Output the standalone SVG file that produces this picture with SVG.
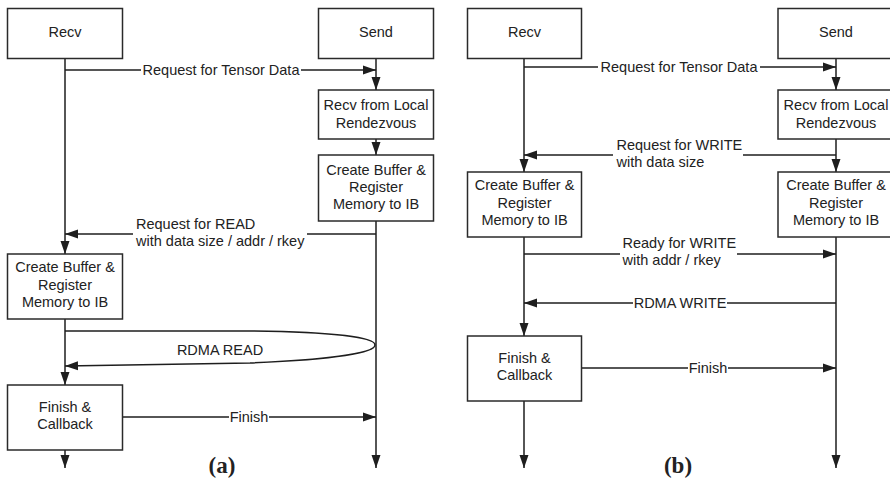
<svg xmlns="http://www.w3.org/2000/svg" width="890" height="479" viewBox="0 0 890 479">
<style>
.box{fill:#fff;stroke:#2a2a2a;stroke-width:1.5}
.ln{fill:none;stroke:#1e1e1e;stroke-width:1.5}
.t{font-family:"Liberation Sans",Arial,sans-serif;font-size:14.5px;fill:#222}
.c{text-anchor:middle}
.bg{fill:#fff}
.cap{font-family:"Liberation Serif","Times New Roman",serif;font-size:23px;font-weight:bold;fill:#222;text-anchor:middle}
</style>
<defs>
<marker id="ar" markerUnits="userSpaceOnUse" markerWidth="14" markerHeight="10" viewBox="0 0 14 10" refX="13" refY="5" orient="auto">
<path d="M0,0.5 L13,5 L0,9.5 Z" fill="#1e1e1e"/>
</marker>
</defs>

<g id="connectors">
<!-- panel a -->
<path class="ln" d="M65,58 V254" marker-end="url(#ar)"/>
<path class="ln" d="M65,319 V385" marker-end="url(#ar)"/>
<path class="ln" d="M65,450 V468" marker-end="url(#ar)"/>
<path class="ln" d="M376,58 V90" marker-end="url(#ar)"/>
<path class="ln" d="M376,139 V155" marker-end="url(#ar)"/>
<path class="ln" d="M376,221 V468" marker-end="url(#ar)"/>
<path class="ln" d="M65,70 H376" marker-end="url(#ar)"/>
<path class="ln" d="M376,234 H65" marker-end="url(#ar)"/>
<path class="ln" d="M65,331 L250,331 C330,332 375,337 375,345 C375,354 320,360 250,363 L65,366" marker-end="url(#ar)"/>
<path class="ln" d="M122,417 H376" marker-end="url(#ar)"/>
<!-- panel b -->
<path class="ln" d="M524,58 V172" marker-end="url(#ar)"/>
<path class="ln" d="M524,237 V336" marker-end="url(#ar)"/>
<path class="ln" d="M524,401 V468" marker-end="url(#ar)"/>
<path class="ln" d="M836,58 V90" marker-end="url(#ar)"/>
<path class="ln" d="M836,139 V172" marker-end="url(#ar)"/>
<path class="ln" d="M836,237 V468" marker-end="url(#ar)"/>
<path class="ln" d="M524,67 H836" marker-end="url(#ar)"/>
<path class="ln" d="M836,155 H524" marker-end="url(#ar)"/>
<path class="ln" d="M524,254 H836" marker-end="url(#ar)"/>
<path class="ln" d="M836,303 H524" marker-end="url(#ar)"/>
<path class="ln" d="M581,368 H836" marker-end="url(#ar)"/>

<!-- labels -->
<rect class="bg" x="141" y="63" width="160" height="14"/>
<text class="t c" x="221" y="75">Request for Tensor Data</text>
<rect class="bg" x="133" y="218" width="174" height="32"/>
<text class="t" x="136" y="229">Request for READ</text>
<text class="t" x="136" y="246">with data size / addr / rkey</text>
<text class="t c" x="220" y="355">RDMA READ</text>
<rect class="bg" x="229" y="410" width="40" height="14"/>
<text class="t c" x="249" y="422">Finish</text>

<rect class="bg" x="598" y="60" width="162" height="14"/>
<text class="t c" x="679" y="72">Request for Tensor Data</text>
<rect class="bg" x="613" y="139" width="130" height="31"/>
<text class="t" x="616.5" y="150">Request for WRITE</text>
<text class="t" x="616.5" y="166.5">with data size</text>
<rect class="bg" x="620" y="237" width="117" height="31"/>
<text class="t" x="622.5" y="248">Ready for WRITE</text>
<text class="t" x="622.5" y="265">with addr / rkey</text>
<rect class="bg" x="633" y="296" width="94" height="14"/>
<text class="t c" x="680" y="308">RDMA WRITE</text>
<rect class="bg" x="688" y="361" width="40" height="14"/>
<text class="t c" x="708" y="373">Finish</text>
</g>

<g id="a-recv">
<rect class="box" x="7.5" y="8.5" width="115" height="50"/>
<text class="t c" x="65" y="37">Recv</text>
</g>
<g id="a-send">
<rect class="box" x="318.5" y="8.5" width="115" height="50"/>
<text class="t c" x="376" y="37">Send</text>
</g>
<g id="a-recv-local">
<rect class="box" x="318.5" y="90" width="115" height="49"/>
<text class="t c" x="376" y="110">Recv from Local</text>
<text class="t c" x="376" y="127.5">Rendezvous</text>
</g>
<g id="a-send-buffer">
<rect class="box" x="318.5" y="155" width="115" height="66"/>
<text class="t c" x="376" y="175">Create Buffer &amp;</text>
<text class="t c" x="376" y="192">Register</text>
<text class="t c" x="376" y="208.5">Memory to IB</text>
</g>
<g id="a-recv-buffer">
<rect class="box" x="7.5" y="254" width="115" height="65"/>
<text class="t c" x="65" y="272">Create Buffer &amp;</text>
<text class="t c" x="65" y="289.5">Register</text>
<text class="t c" x="65" y="306.5">Memory to IB</text>
</g>
<g id="a-finish">
<rect class="box" x="7.5" y="385" width="115" height="65"/>
<text class="t c" x="65" y="411.5">Finish &amp;</text>
<text class="t c" x="65" y="429">Callback</text>
</g>

<g id="b-recv">
<rect class="box" x="467.5" y="8.5" width="114" height="50"/>
<text class="t c" x="524.5" y="37">Recv</text>
</g>
<g id="b-send">
<rect class="box" x="778" y="8.5" width="116" height="50"/>
<text class="t c" x="836" y="37">Send</text>
</g>
<g id="b-recv-local">
<rect class="box" x="778" y="90" width="116" height="49"/>
<text class="t c" x="836" y="110">Recv from Local</text>
<text class="t c" x="836" y="127.5">Rendezvous</text>
</g>
<g id="b-recv-buffer">
<rect class="box" x="467.5" y="172" width="114" height="65"/>
<text class="t c" x="524.5" y="190">Create Buffer &amp;</text>
<text class="t c" x="524.5" y="207.5">Register</text>
<text class="t c" x="524.5" y="224.5">Memory to IB</text>
</g>
<g id="b-send-buffer">
<rect class="box" x="778" y="172" width="116" height="65"/>
<text class="t c" x="836" y="190">Create Buffer &amp;</text>
<text class="t c" x="836" y="207.5">Register</text>
<text class="t c" x="836" y="224.5">Memory to IB</text>
</g>
<g id="b-finish">
<rect class="box" x="467.5" y="336" width="114" height="65"/>
<text class="t c" x="524.5" y="362.5">Finish &amp;</text>
<text class="t c" x="524.5" y="380">Callback</text>
</g>

<text class="cap" x="222" y="473">(a)</text>
<text class="cap" x="678" y="473">(b)</text>
</svg>
